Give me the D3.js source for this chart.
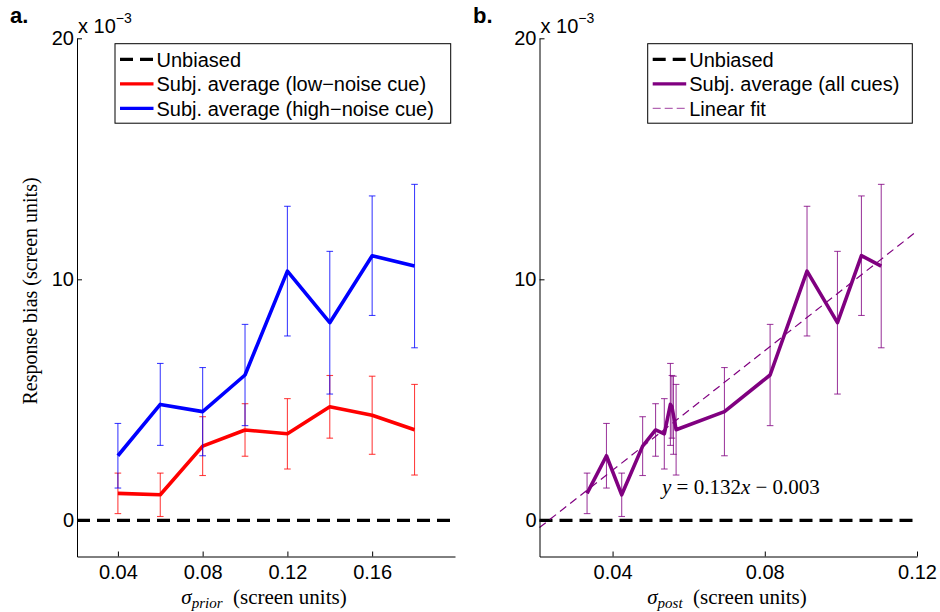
<!DOCTYPE html>
<html>
<head>
  <meta charset="utf-8">
  <script src="https://d3js.org/d3.v7.min.js"></script>
  <style>
    body { margin: 0; background: #fff; }
    svg { display: block; }
    .tick text { font-family: "Liberation Sans", Arial, sans-serif; font-size: 20px; fill: #000; }
    .tick line, .domain { stroke: #000; stroke-width: 1px; }
  </style>
</head>
<body>
<script type="text/javascript">
  "use strict";

  // values, bias in units of 10^-3 screen units
  var sigmaPrior = [0.04, 0.06, 0.08, 0.10, 0.12, 0.14, 0.16, 0.18];
  var lowNoiseBias = [1.12, 1.06, 3.08, 3.75, 3.59, 4.71, 4.36, 3.76];
  var lowNoiseErr = [0.84, 0.90, 1.22, 1.09, 1.46, 1.30, 1.62, 1.88];
  var highNoiseBias = [2.68, 4.81, 4.51, 6.03, 10.34, 8.20, 10.98, 10.55];
  var highNoiseErr = [1.34, 1.70, 1.83, 2.10, 2.69, 2.96, 2.48, 3.39];
  // sigma_post of the same points (panel b)
  var lowNoisePost = [0.0333, 0.0424, 0.0479, 0.0513, 0.0536, 0.0556, 0.0560, 0.0567];
  var highNoisePost = [0.0384, 0.0552, 0.0694, 0.0814, 0.0911, 0.0991, 0.1054, 0.1106];
  // dashed fit line as drawn (bias x10^-3 = slope*x + intercept)
  var fitSlope = 124, fitIntercept = -2.88;
  var fitLabel = ["y", " = 0.132", "x", " \u2212 0.003"];

  var priorTicks = [0.04, 0.08, 0.12, 0.16];
  var postTicks = [0.04, 0.08, 0.12];
  var biasTicks = [0, 10, 20];

  var legendA = ["Unbiased", "Subj. average (low\u2212noise cue)", "Subj. average (high\u2212noise cue)"];
  var legendB = ["Unbiased", "Subj. average (all cues)", "Linear fit"];

  var RED = "#ff0000", BLUE = "#0000ff", PURPLE = "#800080";
  var SANS = '"Liberation Sans", Arial, sans-serif';
  var SERIF = '"Liberation Serif", "Times New Roman", serif';

  var svg = d3.select("body").append("svg")
      .attr("width", 940)
      .attr("height", 612);

  var y = d3.scaleLinear().domain([-1.5, 20]).range([556.5, 38.3]);

  function drawPanel(opt) {
    var x = d3.scaleLinear().domain(opt.xDomain).range(opt.xRange);
    var g = svg.append("g");

    // zero (unbiased) line
    g.append("line")
        .attr("x1", x.range()[0]).attr("x2", x.range()[1])
        .attr("y1", y(0)).attr("y2", y(0))
        .style("stroke", "#000").style("stroke-width", 3.2)
        .style("stroke-dasharray", "13,7");

    if (opt.fit) {
      var xd = x.domain();
      g.append("line")
          .attr("x1", x(xd[0])).attr("y1", y(fitSlope * xd[0] + fitIntercept))
          .attr("x2", x(xd[1])).attr("y2", y(fitSlope * xd[1] + fitIntercept))
          .style("stroke", PURPLE).style("stroke-width", 1.2)
          .style("stroke-dasharray", "8,5");
    }

    opt.series.forEach(function (s) {
      var pts = s.x.map(function (d, i) { return { x: d, m: s.m[i], e: s.e[i] }; });
      pts.sort(function (a, b) { return a.x - b.x; });

      var bars = g.append("g").style("stroke", s.color).style("stroke-width", 1.1)
          .style("stroke-opacity", 0.75);
      pts.forEach(function (p) {
        var px = x(p.x), top = y(p.m + p.e), bot = y(p.m - p.e);
        bars.append("line").attr("x1", px).attr("x2", px).attr("y1", top).attr("y2", bot);
        bars.append("line").attr("x1", px - 3.3).attr("x2", px + 3.3).attr("y1", top).attr("y2", top);
        bars.append("line").attr("x1", px - 3.3).attr("x2", px + 3.3).attr("y1", bot).attr("y2", bot);
      });

      g.append("path")
          .datum(pts)
          .attr("d", d3.line().x(function (p) { return x(p.x); }).y(function (p) { return y(p.m); }))
          .style("fill", "none").style("stroke", s.color)
          .style("stroke-width", 3.6).style("stroke-linejoin", "round");
    });

    // axes, MATLAB style with inward ticks
    g.append("g")
        .attr("transform", "translate(0," + y.range()[0] + ")")
        .call(d3.axisBottom(x).tickValues(opt.xTicks).tickFormat(d3.format(".2f"))
          .tickSizeInner(-5).tickSizeOuter(0).tickPadding(8));
    g.append("g")
        .attr("transform", "translate(" + x.range()[0] + ",0)")
        .call(d3.axisLeft(y).tickValues(biasTicks).tickFormat(d3.format("d"))
          .tickSizeInner(-5).tickSizeOuter(0).tickPadding(3));

    // exponent
    var ex = g.append("text").attr("x", x.range()[0] + 1).attr("y", 33)
        .style("font-family", SANS).style("font-size", "20px");
    ex.append("tspan").text("x 10");
    ex.append("tspan").attr("dy", -10).style("font-size", "14px").text("\u22123");

    // panel letter
    g.append("text").attr("x", opt.letterX).attr("y", 23)
        .style("font-family", SANS).style("font-size", "22px").style("font-weight", "bold")
        .text(opt.letter);

    // x label
    var xl = g.append("text").attr("x", opt.labelX).attr("y", 604)
        .attr("text-anchor", "middle")
        .style("font-family", SERIF).style("font-size", "21px");
    xl.append("tspan").style("font-style", "italic").text("\u03c3");
    xl.append("tspan").attr("dy", 4).style("font-style", "italic").style("font-size", "15px").text(opt.sub);
    xl.append("tspan").attr("dy", -4).text("\u2002(screen units)");

    // legend
    var lg = g.append("g");
    lg.append("rect")
        .attr("x", opt.legend.x).attr("y", 43.7)
        .attr("width", opt.legend.w).attr("height", 79.5)
        .style("fill", "#fff").style("stroke", "#000").style("stroke-width", 1);
    opt.legend.items.forEach(function (it, i) {
      var cy = 59.3 + i * 24.5;
      lg.append("line")
          .attr("x1", opt.legend.x + 5).attr("x2", opt.legend.x + 38.5)
          .attr("y1", cy).attr("y2", cy)
          .style("stroke", it.color).style("stroke-width", it.width)
          .style("stroke-dasharray", it.dash || null)
          .style("stroke-opacity", it.opacity || 1);
      lg.append("text")
          .attr("x", opt.legend.x + 41.5).attr("y", cy + 7.2)
          .style("font-family", SANS).style("font-size", "20px")
          .text(it.label);
    });

    return { g: g, x: x };
  }

  drawPanel({
    xDomain: [0.0207, 0.1991], xRange: [77, 455], xTicks: priorTicks,
    letter: "a.", letterX: 10, labelX: 264, sub: "prior",
    series: [
      { x: sigmaPrior, m: lowNoiseBias, e: lowNoiseErr, color: RED },
      { x: sigmaPrior, m: highNoiseBias, e: highNoiseErr, color: BLUE }
    ],
    legend: { x: 115, w: 335.7, items: [
      { label: legendA[0], color: "#000", width: 3.2, dash: "13,7" },
      { label: legendA[1], color: RED, width: 3.2 },
      { label: legendA[2], color: BLUE, width: 3.2 }
    ] }
  });

  var pb = drawPanel({
    xDomain: [0.0208, 0.12], xRange: [539.5, 917], xTicks: postTicks,
    letter: "b.", letterX: 473, labelX: 727, sub: "post", fit: true,
    series: [
      { x: lowNoisePost.concat(highNoisePost), m: lowNoiseBias.concat(highNoiseBias),
        e: lowNoiseErr.concat(highNoiseErr), color: PURPLE }
    ],
    legend: { x: 647.7, w: 264.6, items: [
      { label: legendB[0], color: "#000", width: 3.2, dash: "13,7" },
      { label: legendB[1], color: PURPLE, width: 3.2 },
      { label: legendB[2], color: PURPLE, width: 1.2, dash: "8,4", opacity: 0.6 }
    ] }
  });

  // fit equation
  var eq = pb.g.append("text").attr("x", 662).attr("y", 494)
      .style("font-family", SERIF).style("font-size", "21px");
  eq.selectAll("tspan").data(fitLabel).enter().append("tspan")
      .style("font-style", function (d, i) { return i % 2 === 0 ? "italic" : "normal"; })
      .text(function (d) { return d; });

  // shared y label
  svg.append("text")
      .attr("transform", "translate(37,291) rotate(-90)")
      .attr("text-anchor", "middle")
      .style("font-family", SERIF).style("font-size", "20px")
      .text("Response bias (screen units)");
</script>
</body>
</html>
